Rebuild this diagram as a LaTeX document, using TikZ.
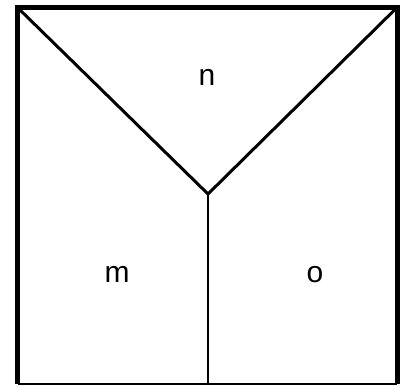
\documentclass[tikz,border=0pt]{standalone}
\usepackage{fontspec}
\setmainfont{Liberation Sans}
\begin{document}
\begin{tikzpicture}[x=1pt,y=-1pt,
    letter/.style={font=\fontsize{30}{36}\selectfont, inner sep=0pt}]
    \useasboundingbox (0,0) rectangle (401,386);

    \coordinate (tl) at (17.5,7.5);
    \coordinate (tr) at (397,7.5);
    \coordinate (bl) at (17.5,384);
    \coordinate (br) at (397,384);
    \coordinate (mid) at (208,194);
    \coordinate (foot) at (208,384);

    \draw[line width=5pt, line join=miter] (bl) -- (tl) -- (tr) -- (br);
    \draw[line width=1.5pt] (bl) -- (br);
    \draw[line width=3pt, line join=miter] (tl) -- (mid) -- (tr);
    \draw[line width=2pt] (mid) -- (foot);

    \node[letter] (n) at (207,77) {n};
    \node[letter] (m) at (117,274) {m};
    \node[letter] (o) at (315,275) {o};
\end{tikzpicture}
\end{document}
